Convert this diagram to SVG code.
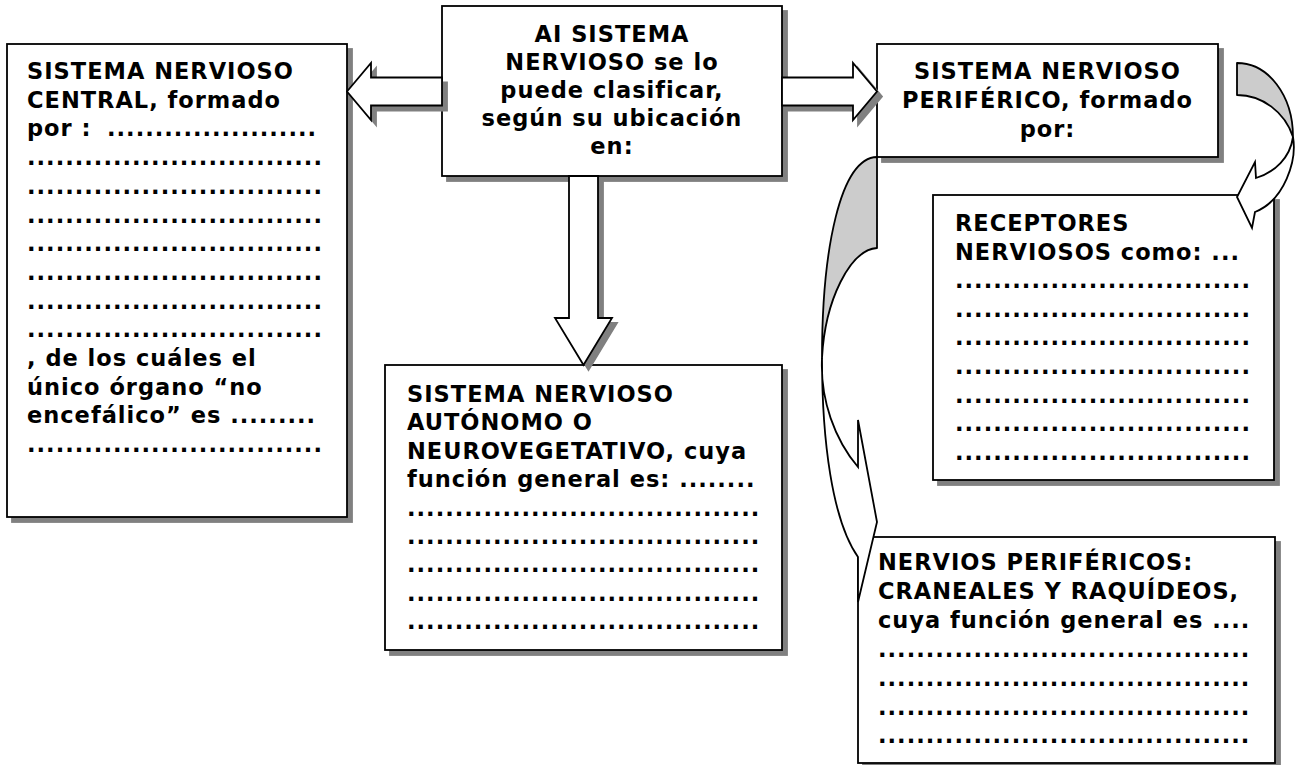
<svg xmlns="http://www.w3.org/2000/svg" width="1302" height="765" viewBox="0 0 1302 765">
  <style>
    .box { fill: #ffffff; stroke: #000000; stroke-width: 1.8; }
    .shadow { fill: #808080; stroke: #808080; stroke-width: 1.8; }
    .arrow { fill: #ffffff; stroke: #000000; stroke-width: 1.8; stroke-linejoin: miter; }
    .back { fill: #cccccc; stroke: #000000; stroke-width: 1.8; stroke-linejoin: round; }
    .t { font-family: "DejaVu Sans", Verdana, sans-serif; font-weight: bold; font-size: 22.5px; letter-spacing: 1px; fill: #000000; }
    .c { text-anchor: middle; }
  </style>
  <rect width="1302" height="765" fill="#ffffff"/>

  <!-- Central question box -->
  <g id="node-clasificacion">
    <rect class="shadow" x="447" y="11" width="340" height="170"/>
    <rect class="box" x="442" y="6" width="340" height="170"/>
    <text class="t c" x="612" y="42">AI SISTEMA</text>
    <text class="t c" x="612" y="70">NERVIOSO se lo</text>
    <text class="t c" x="612" y="98">puede clasificar,</text>
    <text class="t c" x="612" y="126">según su ubicación</text>
    <text class="t c" x="612" y="154">en:</text>
  </g>

  <!-- Central nervous system -->
  <g id="node-central">
    <rect class="shadow" x="12" y="49" width="340" height="473"/>
    <rect class="box" x="7" y="44" width="340" height="473"/>
    <text class="t" x="27" y="79">SISTEMA NERVIOSO</text>
    <text class="t" x="27" y="107.7">CENTRAL, formado</text>
    <text class="t" x="27" y="136.4">por :<tspan x="107">......................</tspan></text>
    <text class="t" x="27" y="165.1">...............................</text>
    <text class="t" x="27" y="193.8">...............................</text>
    <text class="t" x="27" y="222.5">...............................</text>
    <text class="t" x="27" y="251.2">...............................</text>
    <text class="t" x="27" y="279.9">...............................</text>
    <text class="t" x="27" y="308.6">...............................</text>
    <text class="t" x="27" y="337.3">...............................</text>
    <text class="t" x="27" y="366">, de los cuáles el</text>
    <text class="t" x="27" y="394.7">único órgano “no</text>
    <text class="t" x="27" y="423.4">encefálico” es .........</text>
    <text class="t" x="27" y="452.1">...............................</text>
  </g>

  <!-- Peripheral nervous system -->
  <g id="node-periferico">
    <rect class="shadow" x="882" y="49" width="341" height="113"/>
    <rect class="box" x="877" y="44" width="341" height="113"/>
    <text class="t c" x="1047.5" y="79">SISTEMA NERVIOSO</text>
    <text class="t c" x="1047.5" y="108">PERIFÉRICO, formado</text>
    <text class="t c" x="1047.5" y="137">por:</text>
  </g>

  <!-- Receptors -->
  <g id="node-receptores">
    <rect class="shadow" x="938" y="200" width="341" height="285"/>
    <rect class="box" x="933" y="195" width="341" height="285"/>
    <text class="t" x="955" y="231">RECEPTORES</text>
    <text class="t" x="955" y="259.6">NERVIOSOS como: ...</text>
    <text class="t" x="955" y="288.2">...............................</text>
    <text class="t" x="955" y="316.8">...............................</text>
    <text class="t" x="955" y="345.4">...............................</text>
    <text class="t" x="955" y="374">...............................</text>
    <text class="t" x="955" y="402.6">...............................</text>
    <text class="t" x="955" y="431.2">...............................</text>
    <text class="t" x="955" y="459.8">...............................</text>
  </g>

  <!-- Autonomic nervous system -->
  <g id="node-autonomo">
    <rect class="shadow" x="390" y="370" width="397" height="285"/>
    <rect class="box" x="385" y="365" width="397" height="285"/>
    <text class="t" x="407" y="402">SISTEMA NERVIOSO</text>
    <text class="t" x="407" y="430.4">AUTÓNOMO O</text>
    <text class="t" x="407" y="458.8">NEUROVEGETATIVO, cuya</text>
    <text class="t" x="407" y="487.2">función general es: ........</text>
    <text class="t" x="407" y="515.6">.....................................</text>
    <text class="t" x="407" y="544">.....................................</text>
    <text class="t" x="407" y="572.4">.....................................</text>
    <text class="t" x="407" y="600.8">.....................................</text>
    <text class="t" x="407" y="629.2">.....................................</text>
  </g>

  <!-- Peripheral nerves -->
  <g id="node-nervios">
    <rect class="shadow" x="863" y="542" width="417" height="226"/>
    <rect class="box" x="858" y="537" width="417" height="226"/>
    <text class="t" x="878" y="570">NERVIOS PERIFÉRICOS:</text>
    <text class="t" x="878" y="598.9">CRANEALES Y RAQUÍDEOS,</text>
    <text class="t" x="878" y="627.8">cuya función general es ....</text>
    <text class="t" x="878" y="656.7">.......................................</text>
    <text class="t" x="878" y="685.6">.......................................</text>
    <text class="t" x="878" y="714.5">.......................................</text>
    <text class="t" x="878" y="743.4">.......................................</text>
  </g>

  <!-- Block arrows and curved arrows -->
  <g id="connectors">
    <!-- to central system (left) -->
    <polygon class="shadow" transform="translate(5,5)" points="347,91.5 371,63 371,77.5 442,77.5 442,105.5 371,105.5 371,120"/>
    <polygon class="arrow" points="347,91.5 371,63 371,77.5 442,77.5 442,105.5 371,105.5 371,120"/>
    <!-- to peripheral system (right) -->
    <polygon class="shadow" transform="translate(5,5)" points="877,91.5 853,63 853,77.5 782,77.5 782,105.5 853,105.5 853,120"/>
    <polygon class="arrow" points="877,91.5 853,63 853,77.5 782,77.5 782,105.5 853,105.5 853,120"/>
    <!-- to autonomic system (down) -->
    <polygon class="shadow" transform="translate(5,5)" points="583.5,365 555,318 569,318 569,176 598,176 598,318 612,318"/>
    <polygon class="arrow" points="583.5,365 555,318 569,318 569,176 598,176 598,318 612,318"/>

    <!-- curved arrow: peripheral system to receptors -->
    <path class="back" d="M1237,63 C1268,63 1293,95 1293,137 C1285,112 1262,95 1237,95 Z"/>
    <path class="arrow" d="M1293,137 C1297,160 1285,200 1255,212 L1252,228 L1237,197 L1255,162 L1256,178 C1275,172 1290,158 1293,137 Z"/>

    <!-- curved arrow: peripheral system to peripheral nerves -->
    <path class="back" d="M877,157 C840,158 822,250 822,358 C825,300 850,250 877,248 Z"/>
    <path class="arrow" d="M822,358 C822,440 832,520 858,557 L858,602 L877,522 L858,420 L858,467 C835,440 820,400 822,358 Z"/>
  </g>
</svg>
